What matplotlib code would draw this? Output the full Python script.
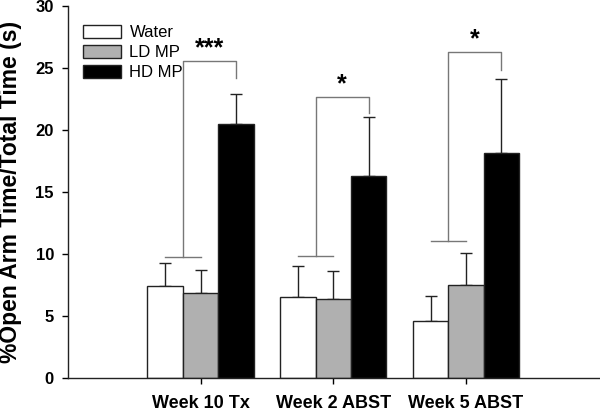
import matplotlib
matplotlib.use("Agg")
import matplotlib.pyplot as plt
import numpy as np

plt.rcParams['font.family'] = ['Liberation Sans', 'DejaVu Sans']

groups = ['Week 10 Tx', 'Week 2 ABST', 'Week 5 ABST']
series = ['Water', 'LD MP', 'HD MP']
water = [7.45, 6.55, 4.62]
water_err = [1.82, 2.45, 2.02]
ld_mp = [6.83, 6.40, 7.53]
ld_mp_err = [1.85, 2.23, 2.55]
hd_mp = [20.46, 16.31, 18.15]
hd_mp_err = [2.47, 4.71, 5.94]

# significance brackets: left leg bottom, top, right leg bottom, label
brk_left = [9.76, 9.86, 11.05]
brk_top = [25.57, 22.64, 26.27]
brk_right = [24.2, 21.37, 24.84]
brk_label = ['***', '*', '*']

colors = ['white', '#b0b0b0', 'black']

fig = plt.figure(figsize=(6, 4.12), dpi=100)
ax = fig.add_axes([0.113, 0.0825, 0.885, 0.9025])

x = np.arange(1, len(groups) + 1)
w = 0.267
vals = [water, ld_mp, hd_mp]
errs = [water_err, ld_mp_err, hd_mp_err]
for i, (v, e) in enumerate(zip(vals, errs)):
    pos = x + (i - 1) * w
    ax.bar(pos, v, w, color=colors[i], edgecolor='#222222', linewidth=1.0,
           label=series[i], zorder=2)
    ax.errorbar(pos, v, yerr=[np.zeros(len(e)), e], fmt='none', ecolor='#222222',
                elinewidth=1.0, capsize=4, capthick=1.0, zorder=1)

gray = '#777777'
for j in range(len(groups)):
    xw = x[j] - w
    xl = x[j]
    xh = x[j] + w
    xm = (xw + xl) / 2
    ax.plot([xw, xl], [brk_left[j], brk_left[j]], color=gray, lw=1.0)
    ax.plot([xm, xm, xh, xh], [brk_left[j], brk_top[j], brk_top[j], brk_right[j]],
            color=gray, lw=1.0)
    ax.text((xm + xh) / 2, brk_top[j] + 0.05, brk_label[j], ha='center', va='bottom',
            fontsize=18, fontweight='bold')

ax.set_xlim(0, 4)
ax.set_ylim(0, 30)
ax.set_xticks(x)
ax.set_xticklabels(groups, fontsize=13, fontweight='bold')
ax.set_yticks([0, 5, 10, 15, 20, 25, 30])
ax.set_yticklabels([str(t) for t in [0, 5, 10, 15, 20, 25, 30]], fontsize=12,
                   fontweight='bold')
ax.tick_params(axis='both', direction='out', length=4, width=1.0, pad=6)
ax.tick_params(axis='x', pad=8)
for s in ['top', 'right']:
    ax.spines[s].set_visible(False)
for s in ['left', 'bottom']:
    ax.spines[s].set_linewidth(1.0)
    ax.spines[s].set_color('#222222')

ax.set_ylabel('%Open Arm Time/Total Time (s)', fontsize=16.5, fontweight='bold', labelpad=10)

ax.legend(loc='upper left', bbox_to_anchor=(0.0, 0.99), frameon=False, fontsize=12,
          handlelength=2.3, handleheight=0.8, labelspacing=0.3, handletextpad=0.5)

fig.savefig('out.png', dpi=100)
